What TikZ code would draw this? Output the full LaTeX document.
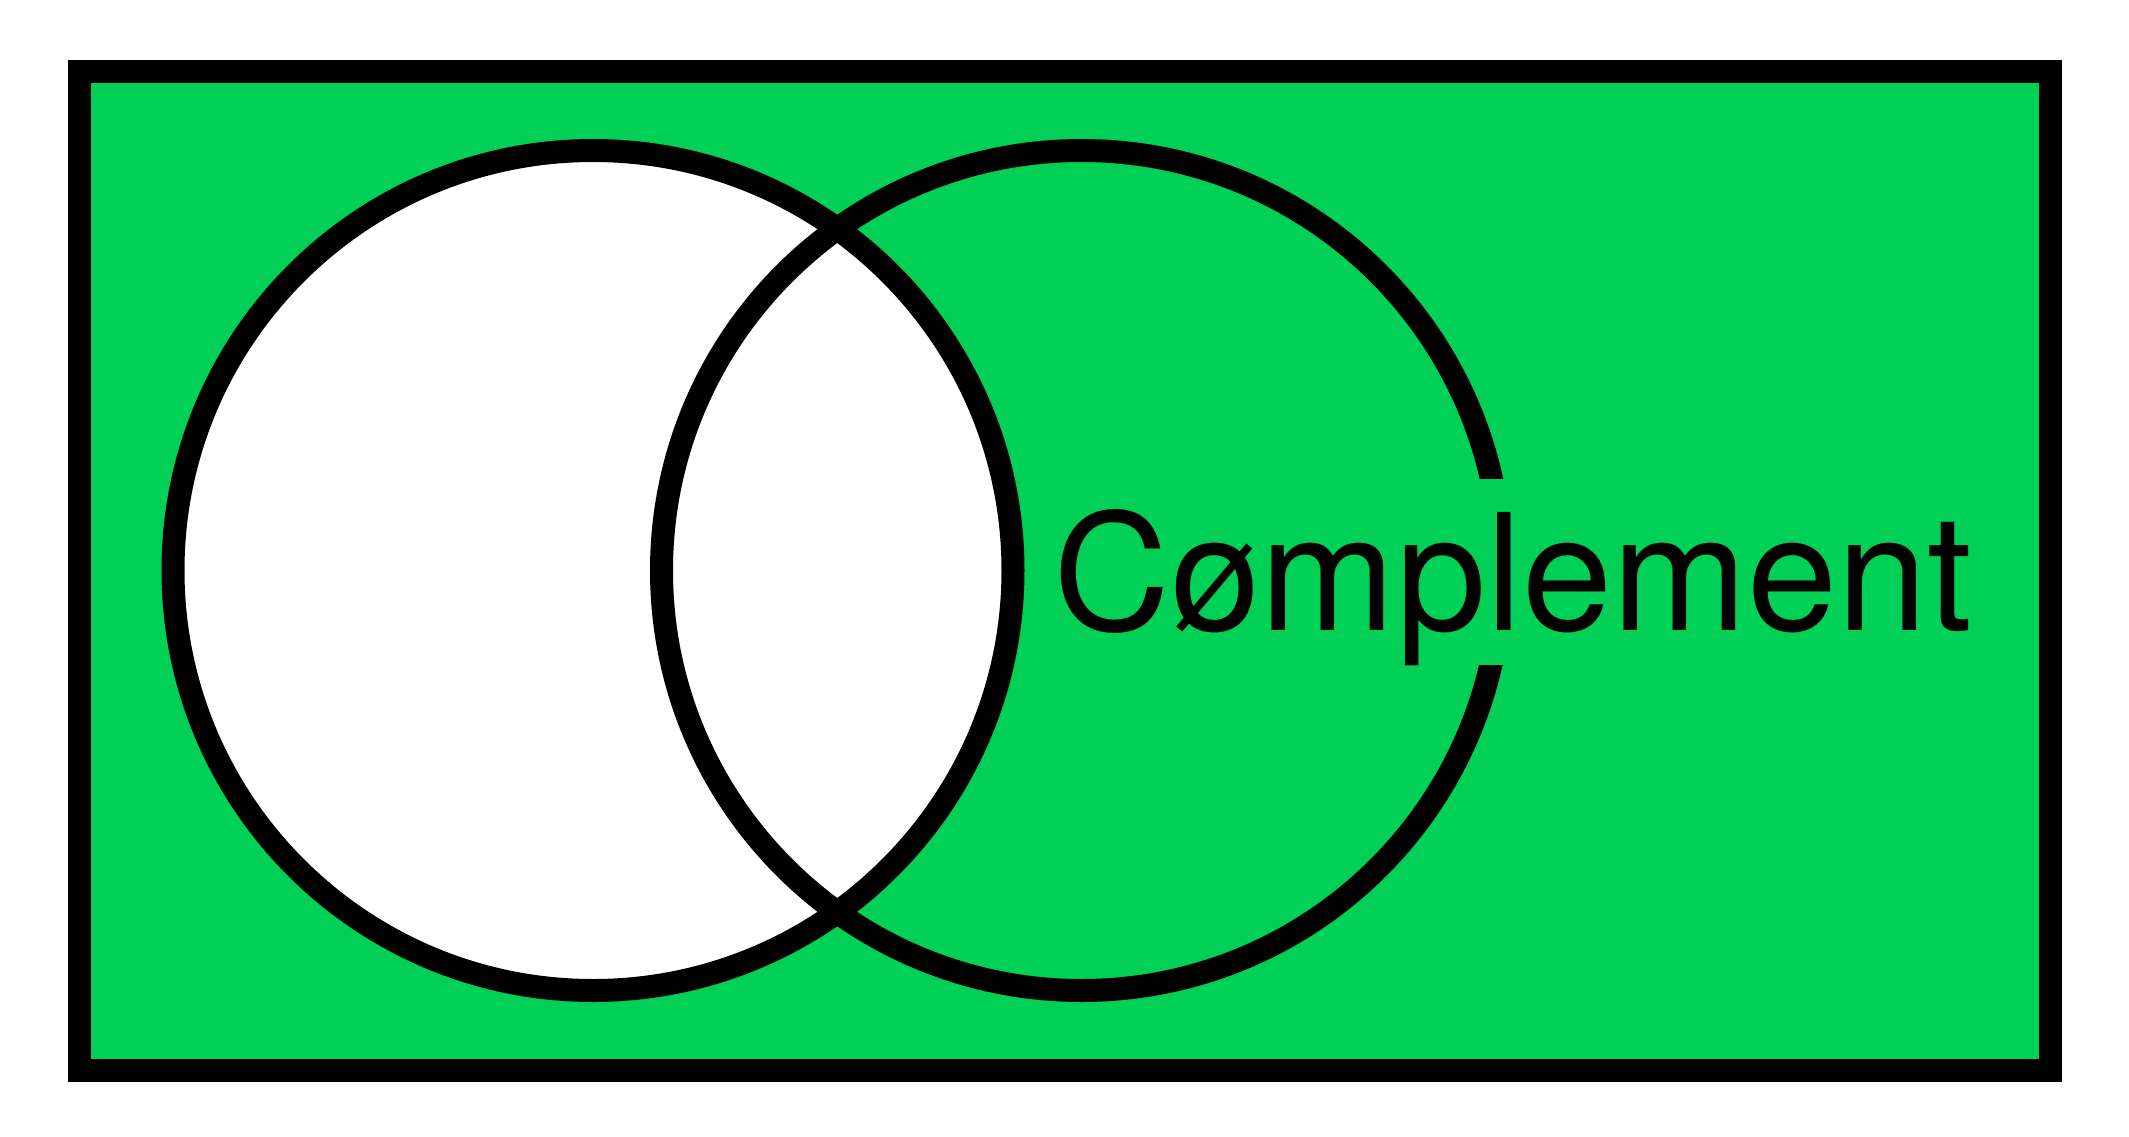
\documentclass[tikz,border=0pt]{standalone}
\usepackage{fontspec}
\setmainfont{TeX Gyre Heros}
\definecolor{setgreen}{RGB}{0,208,86}

\begin{document}
\begin{tikzpicture}[
    font=\fontsize{46.1}{55}\selectfont,
    universe/.style={rectangle,draw=black,fill=setgreen,line width=0.23cm,
        minimum width=19.71cm,minimum height=9.99cm,inner sep=0pt},
    setring/.style={circle,draw=black,line width=0.23cm,
        minimum size=8.4cm,inner sep=0pt},
    setlabel/.style={fill=setgreen,inner sep=0pt,text height=1.51cm,text depth=0.35cm}
]
\useasboundingbox (0,0) rectangle (21.29,-11.37);
\node[universe] (U) at (10.65,-5.71) {};
\node[setring,fill=white] (A) at (5.93,-5.705) {};
\node[setring] (B) at (10.815,-5.705) {};
\node[setlabel,anchor=base west] (comp) at (10.53,-6.30) {Cømplement};
\end{tikzpicture}
\end{document}
